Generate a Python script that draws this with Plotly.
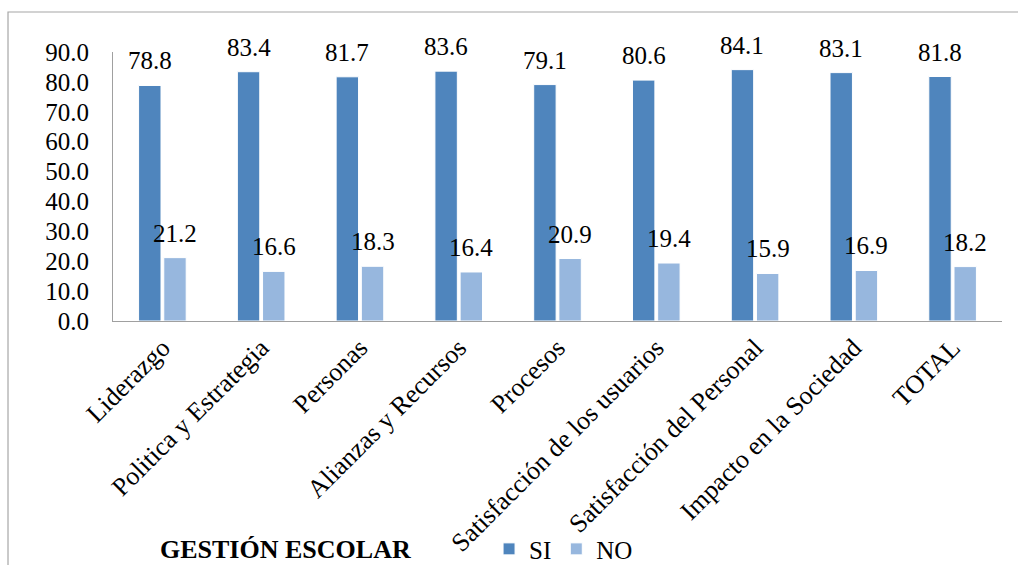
import plotly.graph_objects as go

# Dimensiones de la gestión escolar
categorias = [
    "Liderazgo",
    "Politica y Estrategia",
    "Personas",
    "Alianzas y Recursos",
    "Procesos",
    "Satisfacción de los usuarios",
    "Satisfacción del Personal",
    "Impacto en la Sociedad",
    "TOTAL",
]
si = [78.8, 83.4, 81.7, 83.6, 79.1, 80.6, 84.1, 83.1, 81.8]
no = [21.2, 16.6, 18.3, 16.4, 20.9, 19.4, 15.9, 16.9, 18.2]

COLOR_SI = "#4F85BD"
COLOR_NO = "#97B7DE"
FONT = "Liberation Serif"

fig = go.Figure()
fig.add_trace(go.Bar(name="SI", x=categorias, y=si, marker=dict(color=COLOR_SI, line=dict(color="white", width=1))))
fig.add_trace(go.Bar(name="NO", x=categorias, y=no, marker=dict(color=COLOR_NO, line=dict(color="white", width=1))))

# Etiquetas de valor sobre cada barra
slot = (1 - 0.49) / 2
for i, (a, b) in enumerate(zip(si, no)):
    for val, off in ((a, -slot / 2), (b, slot / 2)):
        fig.add_annotation(
            x=i + off, y=val, xref="x", yref="y",
            text=f"{val:.1f}", showarrow=False,
            yanchor="bottom", yshift=9,
            font=dict(family=FONT, size=25, color="black"),
        )

# Título del eje de categorías
fig.add_annotation(
    x=0.1935, y=-0.848, xref="paper", yref="paper",
    text="<b>GESTIÓN ESCOLAR</b>", showarrow=False,
    xanchor="center", yanchor="middle",
    font=dict(family=FONT, size=26, color="black"),
)

# Marco exterior del gráfico
fig.add_shape(
    type="rect", xref="paper", yref="paper",
    x0=-0.1181, x1=1.03, y0=-1.0, y1=1.1487,
    line=dict(color="#A6A6A6", width=1.2), fillcolor="rgba(0,0,0,0)", layer="below",
)

fig.update_layout(
    width=1018, height=565,
    margin=dict(l=113, r=16, t=52, b=244, autoexpand=False),
    paper_bgcolor="white", plot_bgcolor="white",
    barmode="group", bargap=0.49, bargroupgap=0.11,
    font=dict(family=FONT, size=25, color="black"),
    showlegend=True,
    legend=dict(
        orientation="h", x=0.423, y=-0.848, xanchor="left", yanchor="middle",
        font=dict(family=FONT, size=25, color="black"),
        itemwidth=30, tracegroupgap=0, bgcolor="rgba(0,0,0,0)",
    ),
    xaxis=dict(
        tickangle=-45, showgrid=False, showline=True, linecolor="#A0A0A0", linewidth=1.2,
        ticks="", tickfont=dict(family=FONT, size=26, color="black"), automargin=False,
        range=[-0.5, len(categorias) - 0.5],
    ),
    yaxis=dict(
        range=[0, 90], dtick=10, tickformat=".1f", showgrid=False, zeroline=False,
        showline=True, linecolor="#A0A0A0", linewidth=1.2, ticks="", automargin=False,
        tickfont=dict(family=FONT, size=25, color="black"), ticklabelstandoff=18,
    ),
)

fig.write_html("out.html")
